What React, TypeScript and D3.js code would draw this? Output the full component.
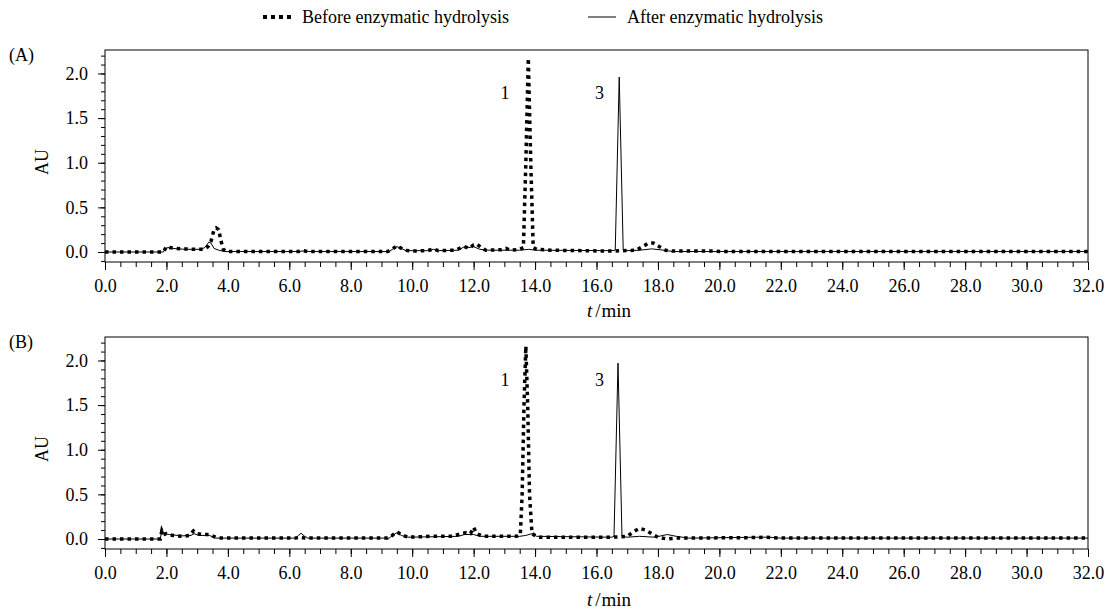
import * as d3 from 'd3';
import React, { useEffect, useRef } from 'react';

// chromatogram points [time (min), AU]
const beforeA: [number, number][] = [
  [0, 0], [1.9, 0], [1.95, 0.03], [2.0, 0.06], [2.1, 0.05], [2.3, 0.04], [2.6, 0.035], [2.9, 0.03],
  [3.2, 0.03], [3.35, 0.06], [3.45, 0.12], [3.55, 0.25], [3.62, 0.27], [3.7, 0.25], [3.78, 0.12],
  [3.85, 0.03], [3.95, 0.005], [6.3, 0.005], [6.45, 0.015], [6.6, 0.005], [9.2, 0.005], [9.35, 0.03],
  [9.5, 0.07], [9.6, 0.05], [9.75, 0.02], [10.0, 0.01], [10.5, 0.015], [10.7, 0.035], [10.85, 0.015],
  [11.4, 0.02], [11.6, 0.05], [11.7, 0.06], [11.85, 0.04], [12.0, 0.08], [12.1, 0.09], [12.25, 0.05],
  [12.4, 0.02], [12.9, 0.025], [13.05, 0.04], [13.2, 0.02], [13.5, 0.03], [13.62, 0.05], [13.7, 1.0],
  [13.78, 2.17], [13.86, 1.0], [13.94, 0.05], [14.05, 0.03], [14.5, 0.02], [16.5, 0.01], [17.3, 0.02],
  [17.5, 0.06], [17.7, 0.1], [17.85, 0.1], [18.05, 0.06], [18.25, 0.02], [18.5, 0.01], [19.8, 0.01],
  [20, 0.005], [32, 0.005],
];
const afterA: [number, number][] = [
  [0, 0], [1.9, 0], [1.97, 0.04], [2.05, 0.05], [2.2, 0.04], [2.6, 0.03], [3.1, 0.03], [3.25, 0.05],
  [3.38, 0.11], [3.45, 0.1], [3.55, 0.04], [3.7, 0.02], [3.9, 0.005], [6.3, 0.005], [6.45, 0.012],
  [6.6, 0.005], [9.25, 0.005], [9.4, 0.04], [9.5, 0.06], [9.65, 0.04], [9.8, 0.015], [10.5, 0.015],
  [10.7, 0.03], [10.85, 0.015], [11.5, 0.02], [11.7, 0.06], [11.85, 0.05], [12.0, 0.06], [12.2, 0.03],
  [12.5, 0.02], [13.5, 0.02], [13.8, 0.03], [14.0, 0.02], [16.5, 0.015], [16.61, 0.02], [16.74, 1.96],
  [16.87, 0.02], [16.95, 0.015], [17.4, 0.02], [17.8, 0.035], [18.2, 0.02], [18.5, 0.005], [32, 0.005],
];
const beforeB: [number, number][] = [
  [0, 0], [1.8, 0], [1.85, 0.09], [1.9, 0.05], [2.0, 0.06], [2.2, 0.04], [2.5, 0.03], [2.75, 0.04],
  [2.88, 0.09], [3.0, 0.06], [3.2, 0.05], [3.4, 0.05], [3.6, 0.02], [3.8, 0.01], [6.2, 0.01],
  [6.35, 0.02], [6.5, 0.01], [9.2, 0.01], [9.35, 0.04], [9.5, 0.08], [9.65, 0.05], [9.85, 0.02],
  [10.6, 0.03], [11.0, 0.03], [11.3, 0.03], [11.6, 0.06], [11.75, 0.07], [11.9, 0.06], [12.0, 0.13],
  [12.1, 0.06], [12.3, 0.03], [13.4, 0.03], [13.52, 0.05], [13.58, 0.5], [13.64, 1.5], [13.7, 2.16],
  [13.76, 1.5], [13.82, 0.5], [13.9, 0.06], [14.1, 0.02], [16.5, 0.02], [17.0, 0.03], [17.2, 0.08],
  [17.4, 0.12], [17.6, 0.1], [17.8, 0.06], [18.0, 0.02], [18.3, 0.0], [18.6, 0.01], [21.0, 0.015],
  [21.5, 0.02], [22.0, 0.01], [32, 0.01],
];
const afterB: [number, number][] = [
  [0, 0], [1.8, 0], [1.85, 0.1], [1.92, 0.06], [2.1, 0.05], [2.5, 0.035], [2.8, 0.04], [2.9, 0.06],
  [3.05, 0.04], [3.4, 0.04], [3.6, 0.01], [6.2, 0.01], [6.3, 0.04], [6.38, 0.065], [6.5, 0.03],
  [6.6, 0.01], [9.25, 0.01], [9.4, 0.05], [9.5, 0.07], [9.65, 0.04], [9.85, 0.02], [11.5, 0.03],
  [11.7, 0.05], [12.0, 0.05], [12.2, 0.03], [13.5, 0.03], [13.7, 0.04], [13.9, 0.06], [14.05, 0.03],
  [16.5, 0.02], [16.57, 0.03], [16.7, 1.97], [16.83, 0.03], [17.0, 0.02], [17.4, 0.03], [17.9, 0.02],
  [18.3, 0.05], [18.6, 0.03], [19, 0.01], [21.2, 0.02], [21.6, 0.02], [22, 0.01], [32, 0.01],
];

// peak labels: [label, time, AU]
const peakLabelsA: [string, number, number][] = [['1', 13.02, 1.79], ['3', 16.1, 1.79]];
const peakLabelsB: [string, number, number][] = [['1', 13.02, 1.79], ['3', 16.1, 1.79]];

const xTicks = [0, 2, 4, 6, 8, 10, 12, 14, 16, 18, 20, 22, 24, 26, 28, 30, 32];
const yTicks = [0, 0.5, 1.0, 1.5, 2.0];
const legendLabels = ['Before enzymatic hydrolysis', 'After enzymatic hydrolysis'];

const FONT = "'Liberation Serif', 'Times New Roman', serif";
const FS = '18px';

const App = () => {
  const svgRef = useRef<SVGSVGElement>(null);

  useEffect(() => {
    const width = 1113;
    const height = 612;
    const margin = { left: 105, right: 25 };
    const panelH = 212;

    const svg = d3.select(svgRef.current);
    svg.selectAll('*').remove();
    svg.attr('width', width).attr('height', height);

    const x = d3.scaleLinear().domain([0, 32]).range([margin.left, width - margin.right]);

    // legend
    const lg = svg.append('g').style('font-family', FONT).style('font-size', FS);
    lg.append('line')
      .attr('x1', 263).attr('x2', 293).attr('y1', 17).attr('y2', 17)
      .attr('stroke', '#000').attr('stroke-width', 4).attr('stroke-dasharray', '4 4');
    lg.append('text').attr('x', 302).attr('y', 23).text(legendLabels[0]);
    lg.append('line')
      .attr('x1', 588).attr('x2', 616).attr('y1', 17).attr('y2', 17)
      .attr('stroke', '#000').attr('stroke-width', 1);
    lg.append('text').attr('x', 627).attr('y', 23).text(legendLabels[1]);

    const panels = [
      { top: 50, tag: '(A)', before: beforeA, after: afterA, peaks: peakLabelsA, titleY: 317 },
      { top: 337, tag: '(B)', before: beforeB, after: afterB, peaks: peakLabelsB, titleY: 606 },
    ];

    panels.forEach(p => {
      const bottom = p.top + panelH;
      const y = d3.scaleLinear().domain([-0.112, 2.263]).range([bottom, p.top]);
      const g = svg.append('g');

      // minor ticks
      g.append('g')
        .attr('transform', `translate(0,${bottom})`)
        .call(d3.axisBottom(x).tickValues(d3.range(0, 32.01, 0.5)).tickSize(5).tickFormat(() => '').tickSizeOuter(0))
        .call(a => a.select('.domain').remove());
      g.append('g')
        .attr('transform', `translate(${margin.left},0)`)
        .call(d3.axisLeft(y).tickValues(d3.range(-0.1, 2.21, 0.1)).tickSize(4).tickFormat(() => '').tickSizeOuter(0))
        .call(a => a.select('.domain').remove());

      // major ticks
      g.append('g')
        .attr('transform', `translate(0,${bottom})`)
        .call(d3.axisBottom(x).tickValues(xTicks).tickSize(8).tickPadding(9).tickFormat(d3.format('.1f')).tickSizeOuter(0))
        .call(a => a.select('.domain').remove())
        .selectAll('text').style('font-family', FONT).style('font-size', FS).attr('fill', '#000');
      g.append('g')
        .attr('transform', `translate(${margin.left},0)`)
        .call(d3.axisLeft(y).tickValues(yTicks).tickSize(7).tickPadding(10).tickFormat(d3.format('.1f')).tickSizeOuter(0))
        .call(a => a.select('.domain').remove())
        .selectAll('text').style('font-family', FONT).style('font-size', FS).attr('fill', '#000');

      g.selectAll('.tick line').attr('stroke', '#000');

      // frame
      g.append('rect')
        .attr('x', margin.left).attr('y', p.top)
        .attr('width', x(32) - margin.left).attr('height', panelH)
        .attr('fill', 'none').attr('stroke', '#000').attr('stroke-width', 1);

      const line = d3.line<[number, number]>().x(d => x(d[0])).y(d => y(d[1]));

      g.append('path')
        .datum(p.after)
        .attr('fill', 'none').attr('stroke', '#000').attr('stroke-width', 1)
        .attr('stroke-linejoin', 'round')
        .attr('d', line);
      g.append('path')
        .datum(p.before)
        .attr('fill', 'none').attr('stroke', '#000').attr('stroke-width', 3.5)
        .attr('stroke-dasharray', '3.5 4')
        .attr('d', line);

      // peak labels
      g.selectAll('.peak')
        .data(p.peaks)
        .enter()
        .append('text')
        .attr('x', d => x(d[1]))
        .attr('y', d => y(d[2]))
        .attr('text-anchor', 'middle')
        .attr('dy', '0.35em')
        .style('font-family', FONT).style('font-size', FS)
        .text(d => d[0]);

      // panel tag, y label, x label
      g.append('text')
        .attr('x', 9).attr('y', p.top + 11)
        .style('font-family', FONT).style('font-size', FS)
        .text(p.tag);
      g.append('text')
        .attr('transform', `translate(48,${(p.top + bottom) / 2 + 6}) rotate(-90)`)
        .attr('text-anchor', 'middle')
        .style('font-family', FONT).style('font-size', FS)
        .text('AU');
      const xl = g.append('text')
        .attr('x', 609)
        .attr('y', p.titleY)
        .attr('text-anchor', 'middle')
        .style('font-family', FONT).style('font-size', '19px');
      xl.append('tspan').style('font-style', 'italic').text('t');
      xl.append('tspan').attr('dx', 3).text('/');
      xl.append('tspan').attr('dx', 1).text('min');
    });
  }, []);

  return <svg ref={svgRef} style={{ position: 'absolute', left: 0, top: 0, display: 'block', background: '#fff' }}></svg>;
};

export default App;
